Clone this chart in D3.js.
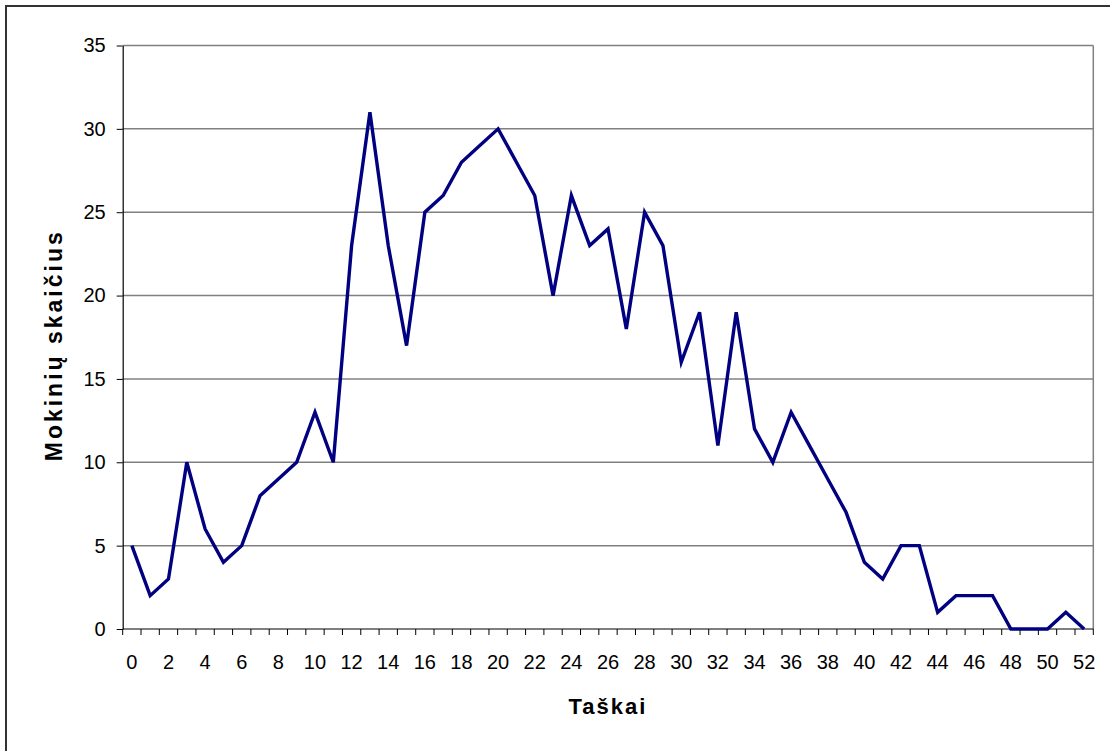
<!DOCTYPE html>
<html>
<head>
<meta charset="utf-8">
<script src="https://cdnjs.cloudflare.com/ajax/libs/d3/7.8.5/d3.min.js"></script>
<style>
  body { margin: 0; background: #fff; }
  svg { display: block; }
</style>
</head>
<body>
<svg id="chart"></svg>
<script>
var points = d3.range(0, 53);
var students = [5, 2, 3, 10, 6, 4, 5, 8, 9, 10, 13, 10, 23, 31, 23, 17, 25, 26, 28, 29,
                30, 28, 26, 20, 26, 23, 24, 18, 25, 23, 16, 19, 11, 19, 12, 10, 13, 11, 9, 7,
                4, 3, 5, 5, 1, 2, 2, 2, 0, 0, 0, 1, 0];
var yTicks = [0, 5, 10, 15, 20, 25, 30, 35];

var w = 1110;
var h = 751;
var plotLeft = 122.7, plotRight = 1093.3, plotTop = 45.5, plotBottom = 629;

var svg = d3.select("#chart")
    .attr("width", w)
    .attr("height", h);

svg.append("rect")
    .attr("x", 0).attr("y", 0).attr("width", w).attr("height", h)
    .attr("fill", "#fff");

// outer frame
svg.append("rect")
    .attr("x", 6).attr("y", 6).attr("width", w + 20).attr("height", h + 20)
    .attr("fill", "none")
    .attr("stroke", "#333")
    .attr("stroke-width", 2);

var x = d3.scaleBand()
    .domain(points)
    .range([plotLeft, plotRight]);

var y = d3.scaleLinear()
    .domain([0, 35])
    .range([plotBottom, plotTop]);

var bw = x.bandwidth();

// gridlines
svg.append("g")
    .selectAll("line")
    .data(yTicks.filter(function (d) { return d > 0; }))
    .enter()
    .append("line")
    .attr("x1", plotLeft).attr("x2", plotRight)
    .attr("y1", function (d) { return y(d); })
    .attr("y2", function (d) { return y(d); })
    .attr("stroke", "#808080")
    .attr("stroke-width", 1.5);

// right border of plot
svg.append("line")
    .attr("x1", plotRight).attr("x2", plotRight)
    .attr("y1", y(35)).attr("y2", y(0))
    .attr("stroke", "#808080")
    .attr("stroke-width", 1.5);

// y axis
var yAxis = d3.axisLeft(y)
    .tickValues(yTicks)
    .tickSize(6)
    .tickPadding(11)
    .tickSizeOuter(0);

var gy = svg.append("g")
    .attr("transform", "translate(" + plotLeft + ",0)")
    .call(yAxis);
gy.select(".domain").attr("stroke", "#000").attr("stroke-width", 1.2);
gy.selectAll(".tick line").attr("stroke", "#000").attr("stroke-width", 1);
gy.selectAll(".tick text")
    .attr("font-family", "Liberation Sans, Arial, sans-serif")
    .attr("font-size", "20px")
    .attr("fill", "#000");

// x axis line
svg.append("line")
    .attr("x1", plotLeft).attr("x2", plotRight)
    .attr("y1", plotBottom).attr("y2", plotBottom)
    .attr("stroke", "#000")
    .attr("stroke-width", 1.2);

// x ticks at band edges
svg.append("g")
    .selectAll("line")
    .data(points.concat([null]))
    .enter()
    .append("line")
    .attr("x1", function (d) { return d === null ? plotRight : x(d); })
    .attr("x2", function (d) { return d === null ? plotRight : x(d); })
    .attr("y1", plotBottom)
    .attr("y2", plotBottom + 6)
    .attr("stroke", "#000")
    .attr("stroke-width", 1);

// x labels
svg.append("g")
    .selectAll("text")
    .data(points.filter(function (d) { return d % 2 === 0; }))
    .enter()
    .append("text")
    .text(function (d) { return d; })
    .attr("x", function (d) { return x(d) + bw / 2; })
    .attr("y", plotBottom + 40)
    .attr("text-anchor", "middle")
    .attr("font-family", "Liberation Sans, Arial, sans-serif")
    .attr("font-size", "20px")
    .attr("fill", "#000");

// line
var line = d3.line()
    .x(function (d, i) { return x(points[i]) + bw / 2; })
    .y(function (d) { return y(d); });

svg.append("path")
    .datum(students)
    .attr("d", line)
    .attr("fill", "none")
    .attr("stroke", "#000080")
    .attr("stroke-width", 3.4)
    .attr("stroke-linejoin", "miter");

// titles
svg.append("text")
    .text("Taškai")
    .attr("x", (plotLeft + plotRight) / 2)
    .attr("y", 714)
    .attr("text-anchor", "middle")
    .attr("font-family", "Liberation Sans, Arial, sans-serif")
    .attr("font-weight", "bold")
    .attr("font-size", "22px")
    .attr("letter-spacing", "2px")
    .attr("fill", "#000");

svg.append("text")
    .text("Mokinių skaičius")
    .attr("transform", "translate(62," + ((plotTop + plotBottom) / 2 + 8) + ") rotate(-90)")
    .attr("text-anchor", "middle")
    .attr("font-family", "Liberation Sans, Arial, sans-serif")
    .attr("font-weight", "bold")
    .attr("font-size", "23px")
    .attr("letter-spacing", "3px")
    .attr("fill", "#000");
</script>
</body>
</html>
